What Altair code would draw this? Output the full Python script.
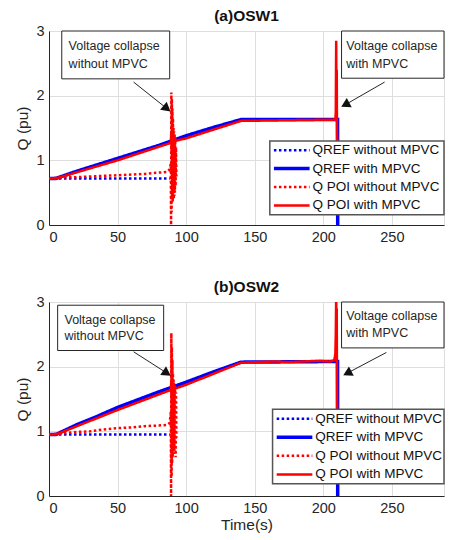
import altair as alt
import pandas as pd

# ---------------- data ----------------
SERIES = ["QREF without MPVC", "QREF with MPVC", "Q POI without MPVC", "Q POI with MPVC"]

# Panel (a) OSW1
A_QREF_WO_T = [0, 88]
A_QREF_WO_Q = [0.72, 0.72]
A_QREF_W_T = [0, 5, 20, 35, 50, 65, 80, 100, 120, 140, 210.4, 210.5]
A_QREF_W_Q = [0.72, 0.72, 0.83, 0.93, 1.03, 1.13, 1.23, 1.38, 1.51, 1.63, 1.63, 0.0]
A_QPOI_WO_T = [0, 10, 20, 30, 40, 50, 60, 70, 80, 86, 88, 88.8, 89.0, 89.2, 89.4, 89.6, 89.8, 90.0,
               90.2, 90.4, 90.6, 90.8, 91.0, 91.2, 91.4, 91.6, 91.8, 92.0, 92.3, 92.6, 92.9]
A_QPOI_WO_Q = [0.72, 0.74, 0.74, 0.75, 0.76, 0.77, 0.78, 0.79, 0.81, 0.82, 0.86, 0.95, 0.0, 2.05,
               0.2, 1.95, 0.4, 1.8, 0.35, 1.65, 0.5, 1.5, 0.4, 1.45, 0.45, 1.4, 0.5, 1.35, 0.6, 1.2, 0.75]
A_QPOI_W_T = [0, 5, 50, 88.8, 89.2, 89.6, 90.0, 90.4, 90.8, 91.2, 91.6, 92.0, 100, 140, 208.8,
              209.1, 209.4, 209.6, 209.8, 210.0, 210.2]
A_QPOI_W_Q = [0.72, 0.72, 1.0, 1.27, 1.45, 1.1, 1.42, 1.15, 1.38, 1.2, 1.35, 1.3, 1.34, 1.61, 1.63,
              1.75, 2.85, 1.6, 2.4, 1.3, 1.35]

# Panel (b) OSW2
B_QREF_WO_T = [0, 88]
B_QREF_WO_Q = [0.95, 0.95]
B_QREF_W_T = [0, 5, 20, 35, 50, 65, 80, 100, 120, 140, 210.4, 210.5]
B_QREF_W_Q = [0.95, 0.95, 1.1, 1.23, 1.37, 1.49, 1.61, 1.76, 1.92, 2.07, 2.08, 0.0]
B_QPOI_WO_T = [0, 10, 20, 30, 40, 50, 60, 70, 80, 86, 88, 88.8, 89.0, 89.2, 89.4, 89.6, 89.8, 90.0,
               90.2, 90.4, 90.6, 90.8, 91.0, 91.2, 91.4, 91.6, 91.8, 92.0, 92.3, 92.6, 92.9]
B_QPOI_WO_Q = [0.95, 0.97, 0.99, 1.0, 1.03, 1.05, 1.06, 1.08, 1.09, 1.10, 1.13, 1.3, 0.0, 2.52,
               0.3, 2.3, 0.5, 2.1, 0.6, 1.9, 0.7, 1.8, 0.65, 1.75, 0.7, 1.7, 0.8, 1.65, 0.6, 1.6, 0.9]
B_QPOI_W_T = [0, 5, 50, 88.8, 89.2, 89.6, 90.0, 90.4, 90.8, 91.2, 91.6, 92.0, 100, 140, 150, 165,
              175, 185, 195, 205, 208, 208.8, 209.1, 209.4, 209.6, 209.8, 210.0, 210.2]
B_QPOI_W_Q = [0.95, 0.95, 1.33, 1.64, 1.78, 1.52, 1.74, 1.55, 1.72, 1.58, 1.7, 1.66, 1.72, 2.06,
              2.07, 2.08, 2.07, 2.08, 2.09, 2.08, 2.1, 2.2, 2.5, 3.1, 2.2, 2.9, 1.35, 1.4]

X_TICKS = [0, 50, 100, 150, 200, 250]
Y_TICKS = [0, 1, 2, 3]
ANNOT_LEFT = ["Voltage collapse", "without MPVC"]
ANNOT_RIGHT = ["Voltage collapse", "with MPVC"]

# ---------------- styling ----------------
FONT = "Liberation Sans"
BLUE = "#0000FF"
RED = "#FF0000"
STYLE = {
    SERIES[0]: dict(color=BLUE, dash=[2.5, 2.5], width=2.5),
    SERIES[1]: dict(color=BLUE, dash=[1, 0], width=3.5),
    SERIES[2]: dict(color=RED, dash=[2.5, 2.5], width=2.5),
    SERIES[3]: dict(color=RED, dash=[1, 0], width=2.5),
}
W = 395
XDOM = [0, 288]
YDOM = [0, 3]


def xenc(show_title, **kw):
    return alt.X("t:Q", scale=alt.Scale(domain=XDOM, nice=False, zero=False),
                 axis=alt.Axis(values=X_TICKS, title="Time(s)" if show_title else None, format="d",
                               labelFontSize=14.5, titleFontSize=15.5, labelPadding=5,
                               tickSize=0, gridColor="#dedede", domainColor="#262626",
                               labelColor="#262626", titleColor="#262626", titleFontWeight="normal",
                               titlePadding=3, labelFont=FONT, titleFont=FONT), **kw)


def yenc(**kw):
    return alt.Y("q:Q", scale=alt.Scale(domain=YDOM, nice=False),
                 axis=alt.Axis(values=Y_TICKS, title="Q (pu)", format="d", labelFontSize=14.5,
                               titleFontSize=15.5, labelPadding=5, tickSize=0, gridColor="#dedede",
                               domainColor="#262626", labelColor="#262626", titleColor="#262626",
                               titleFontWeight="normal", titlePadding=5, labelFont=FONT,
                               titleFont=FONT), **kw)


def panel(title, curves, lbox, rbox, larrow, rarrow, legbox, show_xtitle, height):
    layers = []
    for name, (ts, qs) in zip(SERIES, curves):
        st = STYLE[name]
        df = pd.DataFrame({"t": ts, "q": qs, "i": range(len(ts))})
        layers.append(
            alt.Chart(df).mark_line(clip=True, color=st["color"], strokeWidth=st["width"],
                                    strokeDash=st["dash"], strokeCap="butt")
            .encode(x=xenc(show_xtitle), y=yenc(), order="i:Q")
        )
    # annotation boxes
    boxes = pd.DataFrame([
        dict(t=lbox[0], t2=lbox[1], q=lbox[2], q2=lbox[3]),
        dict(t=rbox[0], t2=rbox[1], q=rbox[2], q2=rbox[3]),
    ])
    layers.append(alt.Chart(boxes).mark_rect(fill="white", stroke="#262626", strokeWidth=1)
                  .encode(x="t:Q", x2="t2:Q", y="q:Q", y2="q2:Q"))
    lh = (lbox[2] - lbox[3]) / 3.0
    txt = pd.DataFrame([
        dict(t=lbox[0] + 5.0, q=lbox[2] - lh * 0.95, s=ANNOT_LEFT[0]),
        dict(t=lbox[0] + 5.0, q=lbox[2] - lh * 2.05, s=ANNOT_LEFT[1]),
        dict(t=rbox[0] + 3.5, q=rbox[2] - lh * 0.95, s=ANNOT_RIGHT[0]),
        dict(t=rbox[0] + 3.5, q=rbox[2] - lh * 2.05, s=ANNOT_RIGHT[1]),
    ])
    layers.append(alt.Chart(txt).mark_text(align="left", baseline="middle", fontSize=12.5,
                                           font=FONT, color="#262626")
                  .encode(x="t:Q", y="q:Q", text="s:N"))
    arrows = pd.DataFrame([
        dict(t=larrow[0], q=larrow[1], t2=larrow[2], q2=larrow[3], a=larrow[4]),
        dict(t=rarrow[0], q=rarrow[1], t2=rarrow[2], q2=rarrow[3], a=rarrow[4]),
    ])
    layers.append(alt.Chart(arrows).mark_rule(color="#262626", strokeWidth=1)
                  .encode(x="t:Q", y="q:Q", x2="t2:Q", y2="q2:Q"))
    layers.append(alt.Chart(arrows).mark_point(shape="triangle-up", filled=True, color="#111111",
                                               size=110, opacity=1)
                  .encode(x="t2:Q", y="q2:Q", angle=alt.Angle("a:Q", scale=None)))
    # legend
    lx0, lx1, ly0, ly1 = legbox
    leg = pd.DataFrame([dict(t=lx0, t2=lx1, q=ly0, q2=ly1)])
    layers.append(alt.Chart(leg).mark_rect(fill="white", stroke="#555555", strokeWidth=1.5)
                  .encode(x="t:Q", x2="t2:Q", y="q:Q", y2="q2:Q"))
    rowh = (ly0 - ly1) / 4.0
    for k, name in enumerate(SERIES):
        st = STYLE[name]
        yy = ly0 - rowh * (k + 0.5)
        seg = pd.DataFrame([dict(t=lx0 + 3, t2=lx0 + 29, q=yy, s=name)])
        layers.append(alt.Chart(seg).mark_rule(color=st["color"], strokeWidth=st["width"],
                                               strokeDash=st["dash"], strokeCap="butt")
                      .encode(x="t:Q", x2="t2:Q", y="q:Q"))
        layers.append(alt.Chart(seg).mark_text(align="left", baseline="middle", fontSize=13.5,
                                               font=FONT, color="#111111", dx=3)
                      .encode(x="t2:Q", y="q:Q", text="s:N"))
    return alt.layer(*layers).properties(
        width=W, height=height,
        title=alt.TitleParams(title, fontSize=15.5, font=FONT, fontWeight="bold", color="#111111",
                              offset=-1.5, anchor="middle", frame="group"),
    )


top = panel(
    "(a)OSW1",
    [(A_QREF_WO_T, A_QREF_WO_Q), (A_QREF_W_T, A_QREF_W_Q), (A_QPOI_WO_T, A_QPOI_WO_Q), (A_QPOI_W_T, A_QPOI_W_Q)],
    lbox=(9.3, 88, 3.0, 2.26), rbox=(213.3, 288, 3.0, 2.27),
    larrow=(61.7, 2.21, 86.0, 1.80, 128.7), rarrow=(244.7, 2.21, 216.0, 1.86, 241.8),
    legbox=(161, 288, 1.30, 0.16), show_xtitle=False, height=194,
)
bottom = panel(
    "(b)OSW2",
    [(B_QREF_WO_T, B_QREF_WO_Q), (B_QREF_W_T, B_QREF_W_Q), (B_QPOI_WO_T, B_QPOI_WO_Q), (B_QPOI_W_T, B_QPOI_W_Q)],
    lbox=(6.3, 83.6, 2.95, 2.25), rbox=(213.3, 288, 3.0, 2.29),
    legbox=(163, 288, 1.34, 0.19), larrow=(61.7, 2.23, 86.0, 1.90, 123.3),
    rarrow=(246.0, 2.22, 217.5, 1.90, 242.9), show_xtitle=True, height=194,
)

chart = alt.vconcat(top, bottom, spacing=35).properties(
    padding={"left": 7, "top": 0, "right": 0, "bottom": 0}
).configure_view(stroke="#262626", strokeWidth=1).configure(background="white")

chart.save("out.html", embed_options={"renderer": "svg", "actions": False})
